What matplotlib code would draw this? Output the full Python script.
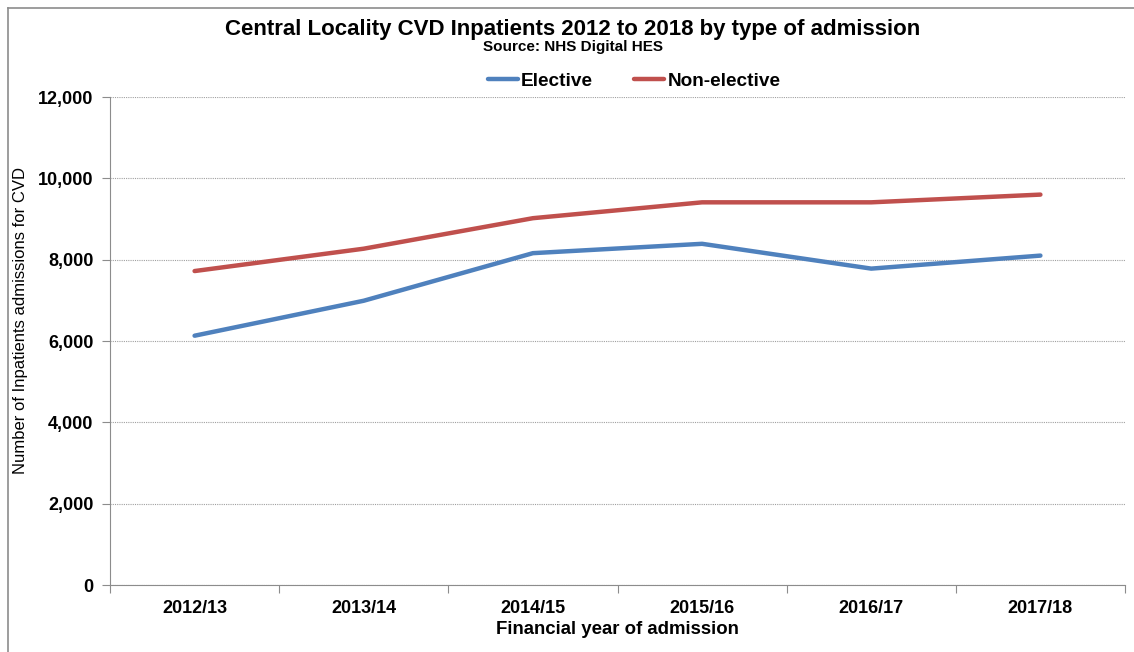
import matplotlib
matplotlib.use("Agg")
import matplotlib.pyplot as plt
from matplotlib.lines import Line2D
from matplotlib.ticker import FuncFormatter, MultipleLocator
import numpy as np

categories = ["2012/13", "2013/14", "2014/15", "2015/16", "2016/17", "2017/18"]
elective = [6130, 6990, 8160, 8390, 7780, 8100]
non_elective = [7720, 8270, 9020, 9410, 9410, 9600]

plt.rcParams['font.family'] = ['Liberation Sans', 'DejaVu Sans']

W, H = 1134, 652
fig = plt.figure(figsize=(W / 100, H / 100), dpi=100)
fig.patch.set_facecolor("white")
# outer chart border (only left and top visible in the crop)
fig.add_artist(Line2D([7.5 / W, 7.5 / W], [0, 1 - 7.5 / H], transform=fig.transFigure,
                      color="#8c8c8c", linewidth=1.2))
fig.add_artist(Line2D([7.5 / W, 1], [1 - 7.5 / H, 1 - 7.5 / H], transform=fig.transFigure,
                      color="#8c8c8c", linewidth=1.2))

left, right, top, bottom = 110, 1125, 97, 585
ax = fig.add_axes([left / W, 1 - bottom / H, (right - left) / W, (bottom - top) / H])

x = np.arange(len(categories))
ax.plot(x, elective, color="#4F81BD", linewidth=3.2, solid_capstyle="round", label="Elective")
ax.plot(x, non_elective, color="#C0504D", linewidth=3.2, solid_capstyle="round", label="Non-elective")

ax.set_xlim(-0.5, len(categories) - 0.5)
ax.set_ylim(0, 12000)
ax.yaxis.set_major_locator(MultipleLocator(2000))
ax.yaxis.set_major_formatter(FuncFormatter(lambda v, p: f"{int(v):,}"))
ax.grid(axis="y", color="#a0a0a0", linestyle=(0, (1, 1)), linewidth=0.8)
ax.set_axisbelow(True)

ax.set_xticks(x)
ax.set_xticklabels(categories, fontsize=13, fontweight="bold")
ax.set_xticks(np.arange(-0.5, len(categories)), minor=True)
ax.tick_params(axis="x", which="major", length=0, pad=11)
ax.tick_params(axis="x", which="minor", length=6, color="#8c8c8c", width=0.8)
ax.tick_params(axis="y", length=6, color="#8c8c8c", width=0.8, labelsize=13, pad=6)
for lab in ax.get_yticklabels():
    lab.set_fontweight("bold")

for s in ["top", "right"]:
    ax.spines[s].set_visible(False)
for s in ["left", "bottom"]:
    ax.spines[s].set_color("#8c8c8c")
    ax.spines[s].set_linewidth(0.8)

ax.set_xlabel("Financial year of admission", fontsize=13.4, fontweight="bold", labelpad=3)
ax.set_ylabel("Number of Inpatients admissions for CVD", fontsize=12)
ax.yaxis.set_label_coords((28 - left) / (right - left), (bottom - 320) / (bottom - top))

fig.text(573 / W, 1 - 29 / H, "Central Locality CVD Inpatients 2012 to 2018 by type of admission",
         ha="center", va="center", fontsize=16, fontweight="bold")
fig.text(573 / W, 1 - 46.5 / H, "Source: NHS Digital HES", ha="center", va="center",
         fontsize=11, fontweight="bold")

leg = fig.legend(loc="center", bbox_to_anchor=(634 / W, 1 - 81 / H), ncol=2, frameon=False,
                 prop={"size": 13.7, "weight": "bold"}, handlelength=1.6, handletextpad=0.15,
                 columnspacing=2.15)

fig.savefig("out.png", dpi=100, facecolor="white")
